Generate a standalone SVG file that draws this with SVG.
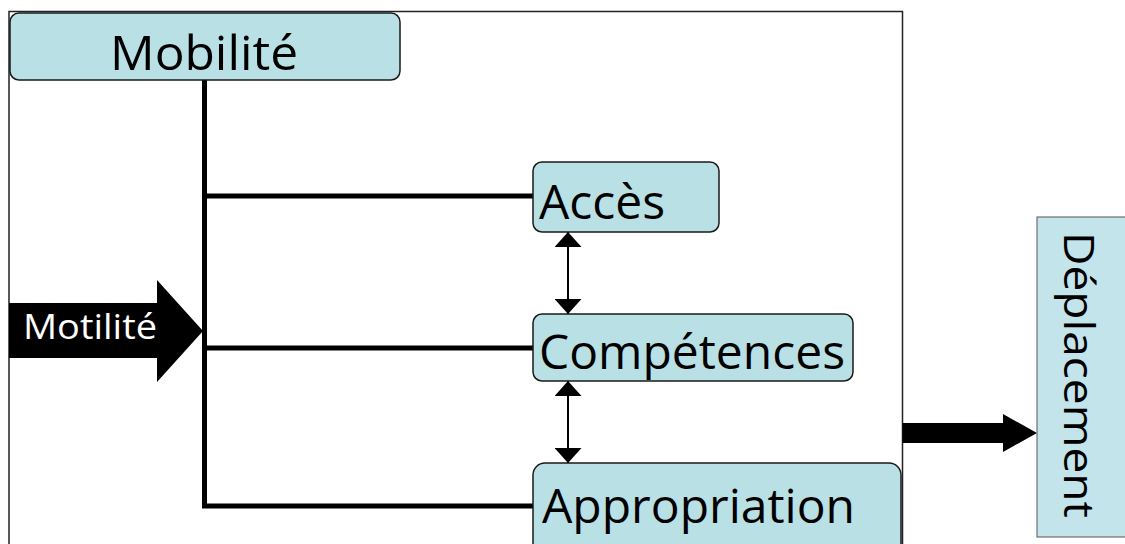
<svg xmlns="http://www.w3.org/2000/svg" width="1125" height="544" viewBox="0 0 1125 544">
<style>
.box{fill:#b9e0e4;stroke:#1a1a1a;stroke-width:1.5}
.t{font-family:"Open Sans","Liberation Sans",sans-serif;fill:#000}
.conn{stroke:#000;stroke-width:5;fill:none}
.dbl{stroke:#000;stroke-width:2;fill:none}
</style>
<defs>
<marker id="ah" viewBox="0 0 15 27" refX="15" refY="13.5" markerWidth="15" markerHeight="27" markerUnits="userSpaceOnUse" orient="auto-start-reverse">
<path d="M0,0 L15,13.5 L0,27 Z" fill="#000"/>
</marker>
</defs>
<rect width="1125" height="544" fill="#fff"/>
<g id="frame">
<path d="M9,560 L9,11.5 L902.5,11.5 L902.5,560" fill="none" stroke="#222" stroke-width="1.5"/>
</g>
<g id="connectors">
<path class="conn" d="M204.5,80 L204.5,506 L533,506"/>
<path class="conn" d="M204.5,196 L533,196"/>
<path class="conn" d="M204.5,348 L533,348"/>
<line class="dbl" x1="568" y1="232" x2="568" y2="314" marker-start="url(#ah)" marker-end="url(#ah)"/>
<line class="dbl" x1="568" y1="381" x2="568" y2="463" marker-start="url(#ah)" marker-end="url(#ah)"/>
<path d="M902.5,423 L1003,423 L1003,414 L1037,433 L1003,452 L1003,443 L902.5,443 Z" fill="#000"/>
</g>
<g id="motilite">
<path d="M9,303 L157,303 L157,280 L203,331 L157,382 L157,358 L9,358 Z" fill="#000"/>
<text class="t" x="23" y="339" font-size="35" style="fill:#fff" textLength="134" lengthAdjust="spacingAndGlyphs">Motilité</text>
</g>
<g id="mobilite">
<rect class="box" x="10" y="13" width="390" height="67" rx="9"/>
<text class="t" x="110" y="70" font-size="48" textLength="188" lengthAdjust="spacingAndGlyphs">Mobilité</text>
</g>
<g id="acces">
<rect class="box" x="533" y="162" width="186" height="70" rx="9"/>
<text class="t" x="539" y="219" font-size="48" textLength="126" lengthAdjust="spacingAndGlyphs">Accès</text>
</g>
<g id="competences">
<rect class="box" x="533" y="314" width="320" height="67" rx="9"/>
<text class="t" x="539" y="369" font-size="48" textLength="306" lengthAdjust="spacingAndGlyphs">Compétences</text>
</g>
<g id="appropriation">
<rect class="box" x="533" y="463" width="368" height="100" rx="12"/>
<text class="t" x="542" y="523" font-size="48" textLength="313" lengthAdjust="spacingAndGlyphs">Appropriation</text>
</g>
<g id="deplacement">
<rect x="1037" y="217" width="92" height="320" fill="#c4e4ec" stroke="#555" stroke-width="1"/>
<text class="t" transform="translate(1064,232) rotate(90)" x="0" y="0" font-size="42" textLength="286" lengthAdjust="spacingAndGlyphs">Déplacement</text>
</g>
</svg>
